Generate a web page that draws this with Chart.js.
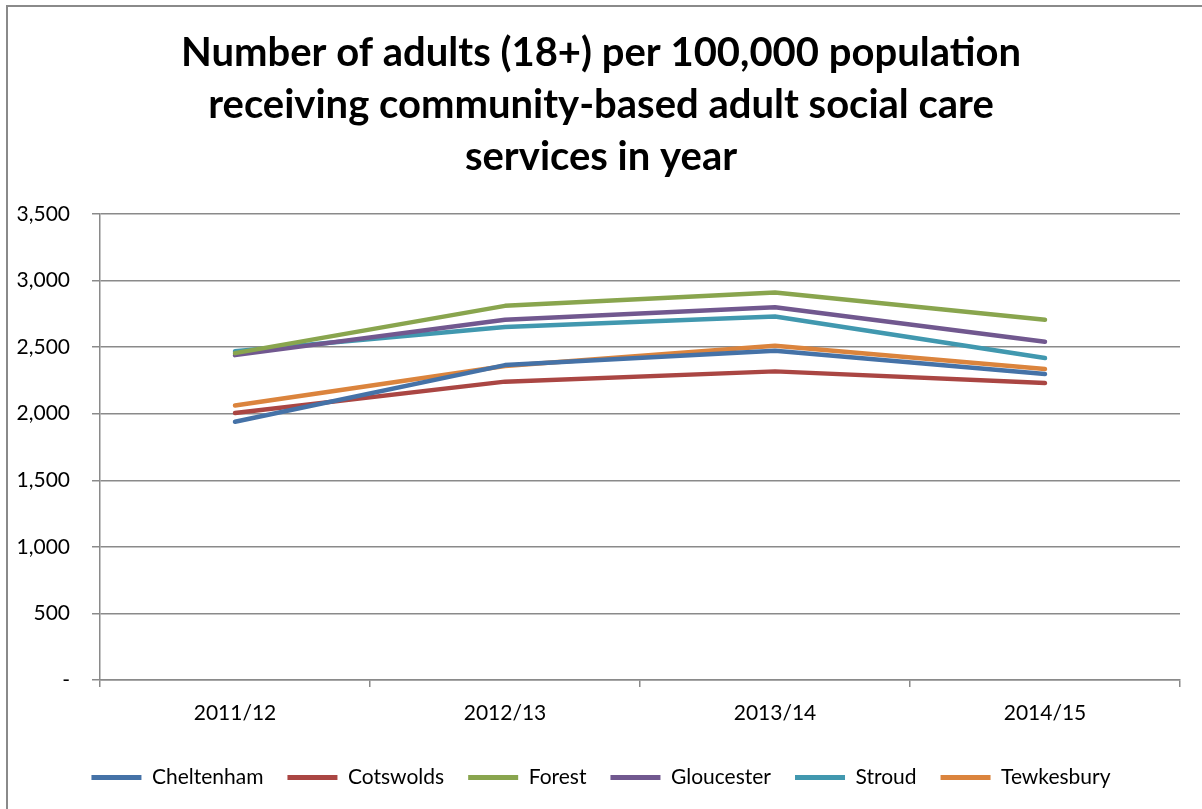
<!DOCTYPE html>
<html>
<head>
<meta charset="utf-8">
<script src="https://cdn.jsdelivr.net/npm/chart.js@4/dist/chart.umd.min.js"></script>
<style>
  html, body { margin: 0; padding: 0; background: #fff; overflow: hidden; }
  #frame { position: absolute; left: 6px; top: 5px; width: 1400px; height: 1000px; border: 2px solid #8a8a8a; }
  #wrap { position: absolute; left: 0; top: 0; width: 1202px; height: 809px; }
</style>
</head>
<body>
<div id="frame"></div>
<div id="wrap"><canvas id="c" width="1202" height="809"></canvas></div>
<script>
const categories = ["2011/12", "2012/13", "2013/14", "2014/15"];
const titleLines = ["Number of adults (18+) per 100,000 population", "receiving community-based adult social care", "services in year"];
const seriesNames = ["Cheltenham", "Cotswolds", "Forest", "Gloucester", "Stroud", "Tewkesbury"];
const cheltenham = [1940, 2365, 2473, 2298];
const cotswolds  = [2005, 2241, 2318, 2230];
const forest     = [2455, 2810, 2910, 2706];
const gloucester = [2440, 2706, 2800, 2541];
const stroud     = [2470, 2652, 2730, 2418];
const tewkesbury = [2062, 2358, 2511, 2336];
const yTicks = [0, 500, 1000, 1500, 2000, 2500, 3000, 3500];

const seriesValues = [cheltenham, cotswolds, forest, gloucester, stroud, tewkesbury];
const colors = ["#4572A7", "#AA4643", "#89A54E", "#71588F", "#4198AF", "#DB843D"];
const FONT = "Lato";

const datasets = seriesNames.map((n, i) => ({
  label: n,
  data: seriesValues[i],
  borderColor: colors[i],
  backgroundColor: colors[i],
  borderWidth: 4.5,
  borderCapStyle: 'round',
  borderJoinStyle: 'round',
  pointRadius: 0,
  pointHoverRadius: 0,
  tension: 0,
  fill: false,
  yAxisID: 'y'
}));

const gridColor = "#8a8a8a";

new Chart(document.getElementById('c'), {
  type: 'line',
  data: { labels: categories, datasets },
  options: {
    responsive: false,
    animation: false,
    devicePixelRatio: 1,
    layout: { padding: { left: 0, right: 0, top: 0, bottom: 11 } },
    plugins: {
      tooltip: { enabled: false },
      title: {
        display: true,
        text: titleLines,
        color: '#000',
        font: { family: FONT, size: 40, weight: 'bold', lineHeight: 52 / 40 },
        padding: { top: 27, bottom: 31 }
      },
      legend: {
        position: 'bottom',
        labels: {
          color: '#000',
          font: { family: FONT, size: 21 },
          boxWidth: 50,
          boxHeight: 5,
          padding: 24,
          generateLabels: (chart) => chart.data.datasets.map((d, i) => ({
            text: d.label,
            fillStyle: d.borderColor,
            strokeStyle: d.borderColor,
            lineWidth: 0,
            datasetIndex: i
          }))
        }
      }
    },
    scales: {
      x: {
        type: 'category',
        offset: true,
        grid: { offset: true, drawOnChartArea: false, drawTicks: true, tickLength: 7, color: gridColor, lineWidth: 1.5 },
        border: { display: true, color: gridColor, width: 1.5 },
        ticks: { color: '#000', font: { family: FONT, size: 21 }, padding: 14, maxRotation: 0 },
        afterFit: (s) => { s.height = 63; }
      },
      y: {
        position: 'left',
        min: 0,
        max: 3500,
        afterBuildTicks: (s) => { s.ticks = yTicks.map(v => ({ value: v })); },
        grid: { drawOnChartArea: true, drawTicks: true, tickLength: 8, color: gridColor, lineWidth: 1.5 },
        border: { display: true, color: gridColor, width: 1.5 },
        ticks: {
          color: '#000',
          font: { family: FONT, size: 21 },
          padding: 22,
          callback: (v) => v === 0 ? '-' : v.toLocaleString('en-US')
        },
        afterFit: (s) => { s.width = 100; }
      },
      yRight: {
        type: 'linear',
        position: 'right',
        display: true,
        min: 0,
        max: 3500,
        grid: { display: false, drawTicks: false },
        border: { display: false },
        ticks: { display: false },
        afterFit: (s) => { s.width = 22; }
      }
    }
  }
});
</script>
</body>
</html>
